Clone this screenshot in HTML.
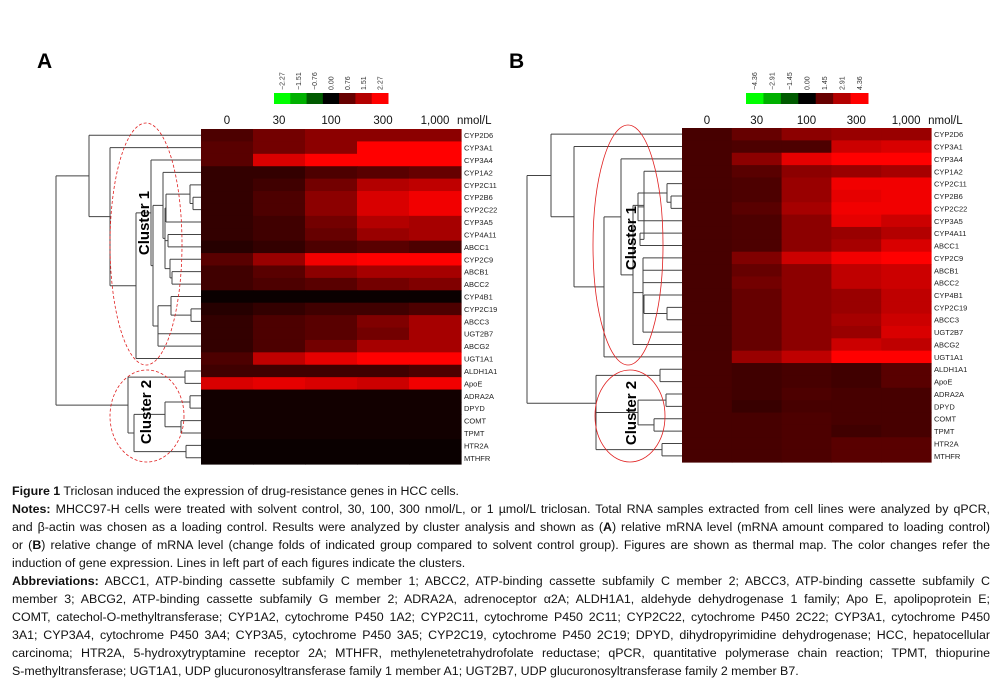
<!DOCTYPE html>
<html><head><meta charset="utf-8">
<style>
body{margin:0;background:#fff;}
#wrap{position:relative;width:1008px;height:683px;overflow:hidden;background:#fff;}
svg text{font-family:"Liberation Sans",sans-serif;}
.cap{position:absolute;left:12px;width:978px;font-family:"Liberation Sans",sans-serif;font-size:12.4px;line-height:18px;white-space:nowrap;color:#111;}
.j{text-align:justify;text-align-last:justify;white-space:normal;}
</style></head><body>
<div id="wrap">
<svg id="fig" width="1008" height="480" style="position:absolute;left:0;top:0"></svg>
<div class="cap" style="top:482px"><b>Figure 1</b> Triclosan induced the expression of drug-resistance genes in HCC cells.</div>
<div class="cap j" style="top:500px"><b>Notes:</b> MHCC97-H cells were treated with solvent control, 30, 100, 300 nmol/L, or 1 µmol/L triclosan. Total RNA samples extracted from cell lines were analyzed by qPCR,</div>
<div class="cap j" style="top:518px">and β-actin was chosen as a loading control. Results were analyzed by cluster analysis and shown as (<b>A</b>) relative mRNA level (mRNA amount compared to loading control)</div>
<div class="cap j" style="top:536px">or (<b>B</b>) relative change of mRNA level (change folds of indicated group compared to solvent control group). Figures are shown as thermal map. The color changes refer the</div>
<div class="cap" style="top:554px">induction of gene expression. Lines in left part of each figures indicate the clusters.</div>
<div class="cap j" style="top:572px"><b>Abbreviations:</b> ABCC1, ATP-binding cassette subfamily C member 1; ABCC2, ATP-binding cassette subfamily C member 2; ABCC3, ATP-binding cassette subfamily C</div>
<div class="cap j" style="top:590px">member 3; ABCG2, ATP-binding cassette subfamily G member 2; ADRA2A, adrenoceptor α2A; ALDH1A1, aldehyde dehydrogenase 1 family; Apo E, apolipoprotein E;</div>
<div class="cap j" style="top:608px">COMT, catechol-O-methyltransferase; CYP1A2, cytochrome P450 1A2; CYP2C11, cytochrome P450 2C11; CYP2C22, cytochrome P450 2C22; CYP3A1, cytochrome P450</div>
<div class="cap j" style="top:626px">3A1; CYP3A4, cytochrome P450 3A4; CYP3A5, cytochrome P450 3A5; CYP2C19, cytochrome P450 2C19; DPYD, dihydropyrimidine dehydrogenase; HCC, hepatocellular</div>
<div class="cap j" style="top:644px">carcinoma; HTR2A, 5-hydroxytryptamine receptor 2A; MTHFR, methylenetetrahydrofolate reductase; qPCR, quantitative polymerase chain reaction; TPMT, thiopurine</div>
<div class="cap" style="top:662px">S-methyltransferase; UGT1A1, UDP glucuronosyltransferase family 1 member A1; UGT2B7, UDP glucuronosyltransferase family 2 member B7.</div>
</div>
<script>
const genes=["CYP2D6","CYP3A1","CYP3A4","CYP1A2","CYP2C11","CYP2B6","CYP2C22","CYP3A5","CYP4A11","ABCC1","CYP2C9","ABCB1","ABCC2","CYP4B1","CYP2C19","ABCC3","UGT2B7","ABCG2","UGT1A1","ALDH1A1","Apo E","ADRA2A","DPYD","COMT","TPMT","HTR2A","MTHFR"];
const doses=["0","30","100","300","1,000"];
const legendA=["\u22122.27","\u22121.51","\u22120.76","0.00","0.76","1.51","2.27"];
const legendB=["\u22124.36","\u22122.91","\u22121.45","0.00","1.45","2.91","4.36"];
const valuesA=[[.3,.45,.55,.55,.55],[.35,.45,.55,1,1],[.35,.85,1,1,1],[.2,.2,.3,.35,.4],[.2,.25,.45,.7,.75],[.2,.3,.55,.85,.95],[.2,.3,.55,.85,.95],[.2,.25,.45,.7,.65],[.2,.25,.4,.6,.65],[.15,.2,.3,.35,.3],[.35,.6,.95,1,1],[.25,.35,.55,.65,.65],[.25,.3,.35,.45,.5],[.04,.04,.04,.04,.04],[.15,.2,.25,.25,.3],[.2,.3,.35,.5,.65],[.2,.3,.35,.45,.65],[.2,.3,.45,.65,.65],[.3,.75,.9,1,1],[.25,.25,.25,.25,.3],[.85,.9,.85,.8,.95],[.07,.07,.07,.07,.07],[.07,.07,.07,.07,.07],[.07,.07,.07,.07,.07],[.07,.07,.07,.07,.07],[.04,.04,.04,.04,.04],[.04,.04,.04,.04,.04]];
const valuesB=[[.28,.4,.55,.6,.6],[.28,.3,.3,.8,.85],[.28,.55,.9,1,1],[.28,.35,.55,.6,.65],[.28,.3,.6,.95,.95],[.28,.3,.6,.9,.95],[.28,.35,.65,.95,.95],[.28,.3,.55,.9,.8],[.28,.3,.55,.6,.7],[.28,.3,.55,.65,.85],[.28,.5,.8,.95,1],[.28,.4,.55,.75,.8],[.28,.45,.55,.75,.8],[.28,.4,.55,.6,.75],[.28,.4,.55,.6,.75],[.28,.4,.55,.65,.8],[.28,.4,.55,.6,.85],[.28,.4,.55,.8,.75],[.28,.6,.75,1,1],[.28,.25,.28,.25,.35],[.28,.25,.28,.25,.35],[.28,.25,.3,.28,.28],[.28,.22,.28,.28,.28],[.28,.28,.3,.28,.28],[.28,.28,.3,.25,.28],[.28,.28,.3,.35,.35],[.28,.28,.3,.35,.35]];
const treeA=[56,[89,0,[110,1,[136,[151,2,[153,[163,3,[165,[166,[190,4,[193,5,6]],7],[168,8,9],[170,10,[172,11,12]]]],[158,[171,13,[191,14,15]],16,17]]],18]]],[128,[185,19,20],[134,[165,[190,21,22],[181,23,24]],[186,25,26]]]];
const treeB=[527,[551,0,[574,1,[604,[621,2,[633,[644,3,[638,[667,4,[671,5,6]],7],[640,8,9]],[643,[643,10,[643,11,12]],[643,[644,13,[667,14,15]],16]],17]],18]]],[596,[660,19,20],[596,[638,[666,21,22],[654,23,24]],[662,25,26]]]];
const NS="http://www.w3.org/2000/svg";
const svg=document.getElementById('fig');
function mk(tag,at,parent){const e=document.createElementNS(NS,tag);for(const k in at)e.setAttribute(k,at[k]);(parent||svg).appendChild(e);return e;}
function color(v){const r=Math.round(Math.min(1,Math.max(0,v))*255);return `rgb(${r},0,0)`;}
const greens=["#00ff00","#00b000","#005a00","#000000"];
function panel(P){
  const g=mk('g',{});
  
  
  const rows=genes.length, rh=(P.y1-P.y0)/rows, cw=(P.x1-P.x0)/doses.length;
  const rowY=i=>P.y0+(i+0.5)*rh;
  const colX=j=>P.x0+j*cw;
  const t=mk('text',{x:P.lx,y:68,'font-size':21,'font-weight':'bold'},g);t.textContent=P.id;
  
  
  const lw=(P.lgx1-P.lgx0)/7;
  for(let k=0;k<7;k++){
    const c=k<4?greens[k]:color([0,.4,.7,1][k-3]);
    const r=mk('rect',{x:P.lgx0+k*lw,y:93,width:lw+0.5,height:11,fill:c},g);
    
    
    const lt=mk('text',{x:0,y:0,'font-size':7,fill:'#333',transform:`translate(${P.lgx0+k*lw+lw/2+2.5},90) rotate(-90)`},g);
    lt.textContent=P.legend[k];
    
    
  }
  doses.forEach((d,j)=>{
    const ct=mk('text',{x:colX(j)+cw/2,y:124,'font-size':11.5,'text-anchor':'middle',fill:'#111'},g);
    ct.textContent=d;
    
    
  });
  const u=mk('text',{x:colX(4)+cw/2+22,y:124,'font-size':11.5,fill:'#111'},g);u.textContent='nmol/L';
  
  
  P.values.forEach((row,i)=>row.forEach((v,j)=>{
    const r=mk('rect',{x:colX(j),y:P.y0+i*rh,width:cw+0.6,height:rh+0.6,fill:color(v)},g);
    
    
  }));
  genes.forEach((n,i)=>{
    const gt=mk('text',{x:P.x1+3,y:rowY(i)+3,'font-size':7.5,fill:'#222'},g);gt.textContent=n.replace(' ','');
    
    
  });
  let d='';
  function walk(node){
    if(typeof node==='number')return rowY(node);
    const x=node[0];const ys=[];
    for(let c=1;c<node.length;c++){
      const ch=node[c];const y=walk(ch);
      const cx=typeof ch==='number'?P.x0:ch[0];
      d+=`M${x},${y}H${cx}`;ys.push(y);
    }
    d+=`M${x},${Math.min(...ys)}V${Math.max(...ys)}`;
    return (Math.min(...ys)+Math.max(...ys))/2;
  }
  walk(P.tree);
  const pth=mk('path',{d,fill:'none',stroke:'#444','stroke-width':1},g);
  
  
  P.ell.forEach((e,k)=>{
    const el=mk('ellipse',{cx:e[0],cy:e[1],rx:e[2],ry:e[3],fill:'none',stroke:'#e02020','stroke-width':0.8,'stroke-dasharray':P.dash},g);
    
    
    const ct=mk('text',{x:0,y:0,'font-size':15,'font-weight':'bold','text-anchor':'middle',transform:`translate(${e[4]},${e[5]}) rotate(-90)`},g);
    ct.textContent='Cluster '+(k+1);
    
    
  });
}
panel({id:'A',lx:37,x0:201,x1:461,y0:129,y1:464,lgx0:274,lgx1:388,legend:legendA,values:valuesA,tree:treeA,dash:'3,2',
  ell:[[146,244,36,121,149,223],[147,416,37,46,151,412]]});
panel({id:'B',lx:509,x0:682,x1:931,y0:128,y1:462,lgx0:746,lgx1:868,legend:legendB,values:valuesB,tree:treeB,dash:'none',
  ell:[[628,245,35,120,636,238],[630,416,35,46,636,413]]});
document.querySelectorAll('.cap').forEach(el=>{
  const j=el.classList.contains('j');
  if(j){el.style.whiteSpace='nowrap';}
  if(el.scrollWidth>el.clientWidth+1){
    const s=el.clientWidth/el.scrollWidth;
    el.style.fontSize=(12.4*s*0.99)+'px';
  }
  if(j){el.style.whiteSpace='normal';}
});
</script>
</body></html>
